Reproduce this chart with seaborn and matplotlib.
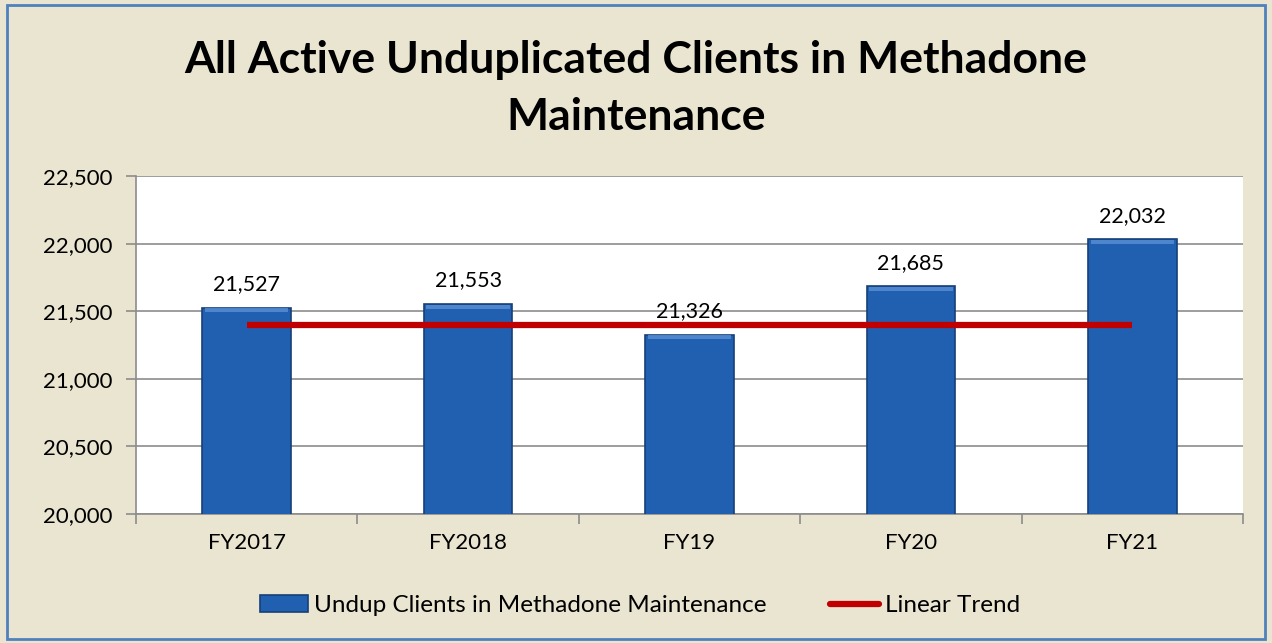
import matplotlib
matplotlib.use("Agg")
import matplotlib.pyplot as plt
import matplotlib.patches as mpatches
import matplotlib.lines as mlines
from matplotlib.ticker import FuncFormatter, FixedLocator
import seaborn as sns
import pandas as pd

categories = ["FY2017", "FY2018", "FY19", "FY20", "FY21"]
clients = [21527, 21553, 21326, 21685, 22032]
trend = [21400, 21400, 21400, 21400, 21400]

title_lines = ["All Active Unduplicated Clients in Methadone", "Maintenance"]
series_label = "Undup Clients in Methadone Maintenance"
trend_label = "Linear Trend"

sns.set_style("white")
plt.rcParams["font.family"] = ["Lato", "DejaVu Sans"]
plt.rcParams["text.color"] = "black"
plt.rcParams["xtick.color"] = "black"
plt.rcParams["ytick.color"] = "black"

bg = "#EAE5D0"
bar_color = "#2160B0"
bar_edge = "#173F78"
red = "#C00000"
grid = "#8C8C8C"

df = pd.DataFrame({"cat": categories, "val": clients, "trend": trend})

fig = plt.figure(figsize=(12.72, 6.43), dpi=100, facecolor=bg)
ax = fig.add_axes([136/1272, 1-514/643, (1243-136)/1272, (514-176)/643])
ax.set_facecolor("white")

sns.barplot(data=df, x="cat", y="val", ax=ax, color=bar_color, width=0.4,
            edgecolor=bar_edge, linewidth=1.2, saturation=1, zorder=3)
# light bevel on top of bars
for p in list(ax.patches):
    x0, w = p.get_x(), p.get_width()
    top = p.get_height()
    ax.add_patch(mpatches.Rectangle((x0 + w*0.03, top - 35), w*0.94, 30,
                                    facecolor="#5A90D6", edgecolor="none", zorder=4, alpha=0.8))
sns.lineplot(x=range(len(categories)), y=df["trend"], ax=ax, color=red, linewidth=4.5,
             zorder=5, solid_capstyle="butt")

ax.set_ylim(20000, 22500)
ax.set_xlim(-0.5, len(categories) - 0.5)
ax.yaxis.set_major_locator(FixedLocator([20000, 20500, 21000, 21500, 22000, 22500]))
ax.yaxis.set_major_formatter(FuncFormatter(lambda v, p: f"{int(v):,}"))
ax.grid(axis="y", color=grid, linewidth=1.2, zorder=0)
ax.set_axisbelow(True)
ax.set_xlabel("")
ax.set_ylabel("")

for s in ["top", "right"]:
    ax.spines[s].set_visible(False)
for s in ["left", "bottom"]:
    ax.spines[s].set_color(grid)
    ax.spines[s].set_linewidth(1.2)

ax.tick_params(axis="y", which="major", direction="out", length=7, color=grid, width=1.2,
               labelsize=16, pad=10, left=True, labelcolor="black")
ax.tick_params(axis="x", which="major", length=0, labelsize=16, pad=14, labelcolor="black")
ax.set_xticks(range(len(categories)))
ax.set_xticklabels(categories)
ax.xaxis.set_minor_locator(FixedLocator([i - 0.5 for i in range(len(categories) + 1)]))
ax.tick_params(axis="x", which="minor", direction="out", length=7, color=grid, width=1.2, bottom=True)

for i, v in enumerate(clients):
    ax.text(i, v + 100, f"{v:,}", ha="center", va="bottom", fontsize=15.5, color="black", zorder=6)

fig.text(0.5, 1 - 60/643, title_lines[0], ha="center", va="center", fontsize=32,
         fontweight="bold", color="black")
fig.text(0.5, 1 - 117/643, title_lines[1], ha="center", va="center", fontsize=32,
         fontweight="bold", color="black")

h1 = mpatches.Patch(facecolor=bar_color, edgecolor=bar_edge, linewidth=1.2)
h2 = mlines.Line2D([], [], color=red, linewidth=4.5)
fig.legend([h1, h2], [series_label, trend_label], loc="center", bbox_to_anchor=(0.503, 0.058),
           ncol=2, frameon=False, fontsize=17.5, handlelength=2.0, handletextpad=0.25,
           columnspacing=2.6, labelcolor="black")

fig.add_artist(mpatches.Rectangle((7/1272, 4/643), 1 - 14/1272, 1 - 9/643,
                                  transform=fig.transFigure, fill=False,
                                  edgecolor="#4F81BD", linewidth=2))

fig.savefig("out.png", dpi=100, facecolor=bg)
